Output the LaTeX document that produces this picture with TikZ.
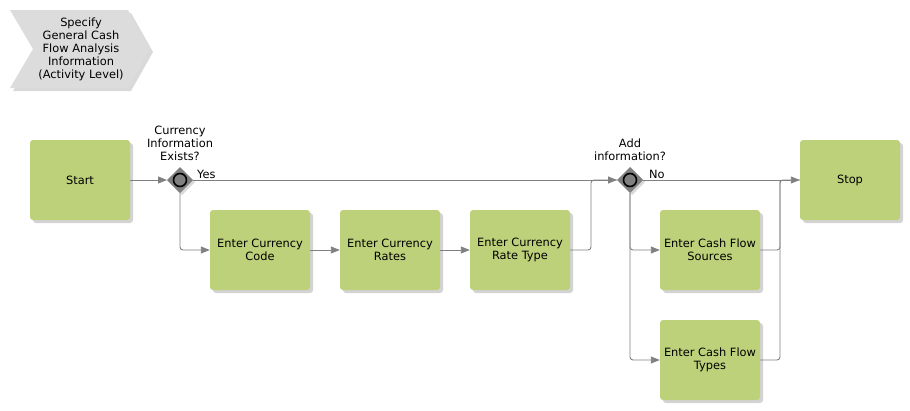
\documentclass[tikz,border=0pt]{standalone}
\usepackage{fontspec}
\setmainfont{DejaVu Sans}
\usetikzlibrary{arrows.meta,shadows}
\definecolor{boxgreen}{RGB}{189,209,122}
\definecolor{linegray}{RGB}{128,128,128}
\definecolor{chevgray}{RGB}{220,220,220}
\tikzset{
  act/.style={draw=none,fill=boxgreen,rounded corners=3pt,minimum width=100pt,minimum height=80pt,
    align=center,font=\fontsize{11.4}{13}\selectfont,inner sep=2pt,
    drop shadow={shadow xshift=3pt,shadow yshift=-3pt,opacity=0.35,fill=gray}},
  conn/.style={draw=linegray,line width=0.9pt,rounded corners=3pt,-{Triangle[length=9pt,width=7pt]}},
  plain/.style={draw=linegray,line width=0.9pt,rounded corners=3pt},
  lbl/.style={align=center,font=\fontsize{11.4}{13}\selectfont,inner sep=1pt}
}
\begin{document}
\begin{tikzpicture}[x=1pt,y=-1pt]
\useasboundingbox (0,0) rectangle (910,410);
% header chevron
\fill[gray,opacity=0.3] (13,13) -- (131,13) -- (153,52) -- (131,91) -- (13,91) -- (36,52) -- cycle;
\fill[chevgray] (10,10) -- (128,10) -- (150,49) -- (128,88) -- (10,88) -- (33,49) -- cycle;
\node[lbl] (hdr) at (81,49) {Specify\\General Cash\\Flow Analysis\\Information\\(Activity Level)};
% activities
\node[act] (start) at (80,180) {Start};
\node[act] (code) at (260,250) {Enter Currency\\Code};
\node[act] (rates) at (390,250) {Enter Currency\\Rates};
\node[act] (rtype) at (520,250) {Enter Currency\\Rate Type};
\node[act] (src) at (710,250) {Enter Cash Flow\\Sources};
\node[act] (types) at (710,360) {Enter Cash Flow\\Types};
\node[act] (stop) at (850,180) {Stop};
% gateways
\foreach \n/\cx in {g1/180,g2/630}{
  \fill[gray,opacity=0.3] (\cx+2,180-13+2) -- (\cx+13+2,180+2) -- (\cx+2,180+13+2) -- (\cx-13+2,180+2) -- cycle;
  \fill[linegray] (\cx,180-13) -- (\cx+13,180) -- (\cx,180+13) -- (\cx-13,180) -- cycle;
  \draw[black,line width=1.6pt] (\cx,180) circle (6.5pt);
  \coordinate (\n) at (\cx,180);
  \coordinate (\n W) at (\cx-13,180);
  \coordinate (\n E) at (\cx+13,180);
  \coordinate (\n S) at (\cx,193);
}
\node[lbl] (g1lbl) at (180,143) {Currency\\Information\\Exists?};
\node[lbl] (g2lbl) at (630,150) {Add\\information?};
\node[lbl,anchor=south west] (yes) at (196,180) {Yes};
\node[lbl,anchor=south west] (no) at (648,180) {No};
% merge coordinates
\coordinate (m1) at (591,180);
\coordinate (m2) at (780,180);
% connectors
\draw[conn] (start.east) -- (g1W);
\draw[conn] (g1E) -- (g2W);
\draw[conn] (g1S) |- (code.west);
\draw[conn] (code.east) -- (rates.west);
\draw[conn] (rates.east) -- (rtype.west);
\draw[plain] (rtype.east) -| (m1) -- (g2W);
\draw[conn] (g2E) -- (stop.west);
\draw[conn] (g2S) |- (src.west);
\draw[conn] (g2S) |- (types.west);
\draw[plain] (src.east) -| (m2) -- (stop.west);
\draw[plain] (types.east) -| (m2);
\end{tikzpicture}
\end{document}
